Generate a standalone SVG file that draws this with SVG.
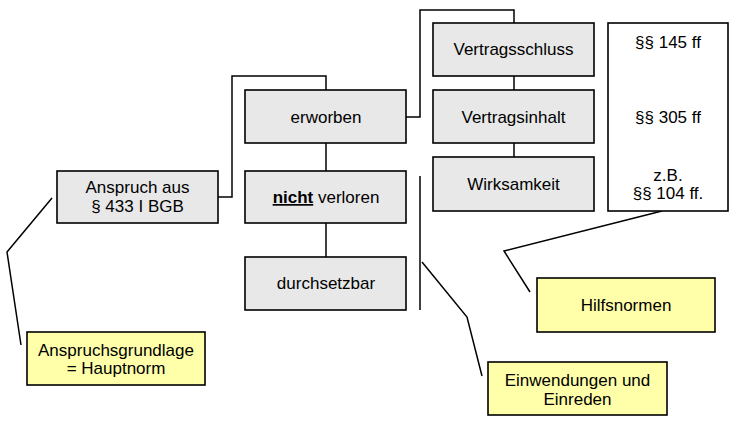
<svg xmlns="http://www.w3.org/2000/svg" width="736" height="424" viewBox="0 0 736 424">
<style>
.box{fill:#e8e8e8;stroke:#000;stroke-width:1.6}
.white{fill:#fff;stroke:#000;stroke-width:1.6}
.note{fill:#ffffaa;stroke:#000;stroke-width:1.6}
.ln{fill:none;stroke:#000;stroke-width:1.5}
text{font-family:"Liberation Sans",Arial,sans-serif;font-size:17px;fill:#000;text-anchor:middle}
</style>
<rect width="736" height="424" fill="#fff"/>
<g id="connectors">
<polyline class="ln" points="218,197 232,197 232,76 326,76 326,90"/>
<line class="ln" x1="326" y1="143" x2="326" y2="171"/>
<line class="ln" x1="326" y1="223" x2="326" y2="257"/>
<polyline class="ln" points="406,117 420,117 420,10 514,10 514,23"/>
<line class="ln" x1="514" y1="76" x2="514" y2="90"/>
<line class="ln" x1="514" y1="143" x2="514" y2="157"/>
<line class="ln" x1="420" y1="176" x2="420" y2="310"/>
<polyline class="ln" points="52,198 7,252 21,345"/>
<polyline class="ln" points="422,262 467,317 482,376"/>
<polyline class="ln" points="662,211 504,251 530,292"/>
</g>
<g id="anspruch">
<rect class="box" x="57" y="171" width="161" height="52"/>
<text x="137.5" y="193">Anspruch aus</text>
<text x="137.5" y="212">§ 433 I BGB</text>
</g>
<g id="erworben">
<rect class="box" x="245" y="90" width="161" height="53"/>
<text x="326" y="123">erworben</text>
</g>
<g id="nicht-verloren">
<rect class="box" x="245" y="171" width="161" height="52"/>
<text x="326" y="203"><tspan font-weight="bold" text-decoration="underline">nicht</tspan> verloren</text>
</g>
<g id="durchsetzbar">
<rect class="box" x="245" y="257" width="161" height="53"/>
<text x="326" y="289">durchsetzbar</text>
</g>
<g id="vertragsschluss">
<rect class="box" x="433" y="23" width="161" height="53"/>
<text x="513.5" y="55">Vertragsschluss</text>
</g>
<g id="vertragsinhalt">
<rect class="box" x="433" y="90" width="161" height="53"/>
<text x="513.5" y="123">Vertragsinhalt</text>
</g>
<g id="wirksamkeit">
<rect class="box" x="433" y="157" width="161" height="54"/>
<text x="513.5" y="190">Wirksamkeit</text>
</g>
<g id="normen">
<rect class="white" x="608" y="23" width="120" height="188"/>
<text x="668" y="48">§§ 145 ff</text>
<text x="668" y="123">§§ 305 ff</text>
<text x="668" y="181">z.B.</text>
<text x="668" y="199">§§ 104 ff.</text>
</g>
<g id="hilfsnormen">
<rect class="note" x="537" y="278" width="178" height="54"/>
<text x="626" y="311">Hilfsnormen</text>
</g>
<g id="einwendungen">
<rect class="note" x="488" y="362" width="179" height="53"/>
<text x="577.5" y="386">Einwendungen und</text>
<text x="577.5" y="405">Einreden</text>
</g>
<g id="anspruchsgrundlage">
<rect class="note" x="27" y="332" width="178" height="53"/>
<text x="116" y="356">Anspruchsgrundlage</text>
<text x="116" y="374">= Hauptnorm</text>
</g>
</svg>
